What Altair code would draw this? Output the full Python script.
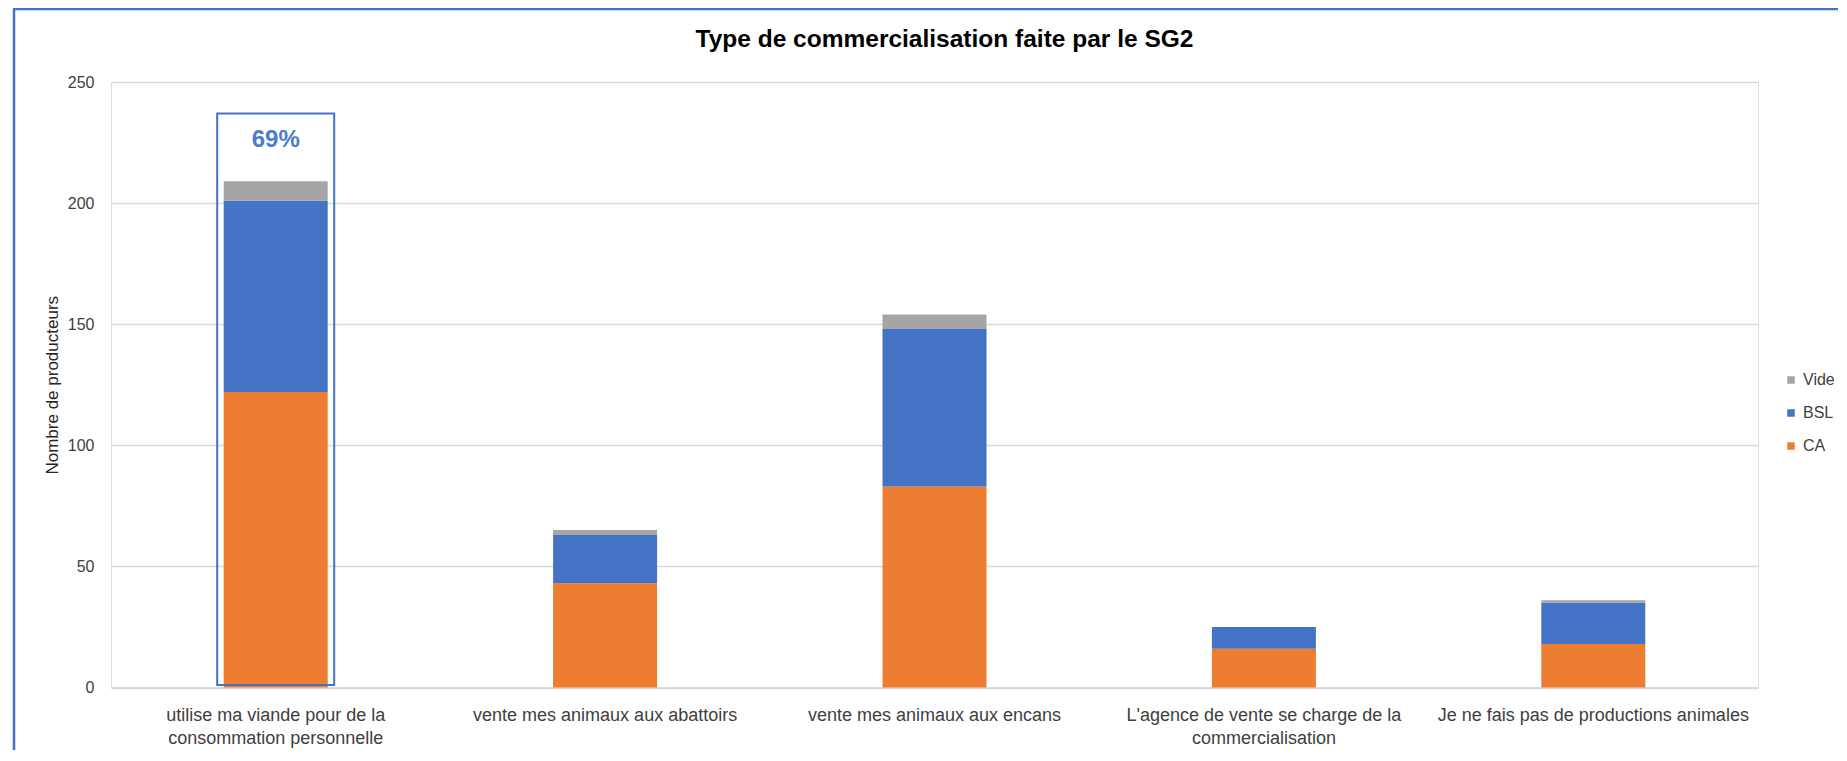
import altair as alt
import pandas as pd

# ---- data ----
categories = [
    "utilise ma viande pour de la\nconsommation personnelle",
    "vente mes animaux aux abattoirs",
    "vente mes animaux aux encans",
    "L'agence de vente se charge de la\ncommercialisation",
    "Je ne fais pas de productions animales",
]
series_names = ["CA", "BSL", "Vide"]          # bottom -> top in the stack
ca = [122, 43, 83, 16, 18]
bsl = [79, 20, 65, 9, 17]
vide = [8, 2, 6, 0, 1]
legend_order = ["Vide", "BSL", "CA"]
legend_colors = ["#A5A5A5", "#4472C4", "#ED7D31"]

y_ticks = [0, 50, 100, 150, 200, 250]

highlight_category = [categories[0]]
highlight_low = [1]
highlight_high = [237]
highlight_label = ["69%"]
highlight_label_y = [226]

chart_title = "Type de commercialisation faite par le SG2"
y_title = "Nombre de producteurs"

# ---- tables ----
rows = []
for s_idx, (name, vals) in enumerate(zip(series_names, [ca, bsl, vide])):
    for cat, v in zip(categories, vals):
        rows.append({"categorie": cat, "serie": name, "valeur": v, "ordre": s_idx})
df = pd.DataFrame(rows)

annot = pd.DataFrame({
    "categorie": highlight_category,
    "bas": highlight_low,
    "haut": highlight_high,
    "label": highlight_label,
    "label_y": highlight_label_y,
})

FONT = "Liberation Sans, Arial, sans-serif"
W, H = 1647, 605.5

x_enc = alt.X(
    "categorie:N",
    sort=categories,
    scale=alt.Scale(paddingInner=0, paddingOuter=0),
    axis=alt.Axis(
        title=None,
        labelAngle=0,
        labelFont=FONT,
        labelFontSize=18,
        labelColor="#404040",
        labelLineHeight=23,
        labelBaseline="top",
        labelPadding=19,
        labelLimit=0,
        labelExpr="split(datum.label, '\\n')",
        ticks=False,
        domainColor="#D9D9D9",
        domainWidth=1.5,
    ),
)

bars = alt.Chart(df).mark_bar(size=104).encode(
    x=x_enc,
    y=alt.Y(
        "valeur:Q",
        stack="zero",
        scale=alt.Scale(domain=[0, 250], nice=False),
        axis=alt.Axis(
            values=y_ticks,
            title=y_title,
            titleFont=FONT,
            titleFontSize=17,
            titleFontWeight="normal",
            titleColor="#262626",
            titleX=-59,
            titleY=H / 2,
            titleAngle=270,
            titleAlign="center",
            titleBaseline="middle",
            labelFont=FONT,
            labelFontSize=16,
            labelColor="#404040",
            labelPadding=17,
            ticks=False,
            domain=False,
            grid=True,
            gridColor="#D9D9D9",
            gridWidth=1.5,
        ),
    ),
    color=alt.Color(
        "serie:N",
        scale=alt.Scale(domain=legend_order, range=legend_colors),
        legend=alt.Legend(
            title=None,
            orient="none",
            legendX=1672,
            legendY=290,
            padding=0,
            symbolType="square",
            symbolSize=56,
            symbolStrokeWidth=0,
            labelFont=FONT,
            labelFontSize=16,
            labelColor="#404040",
            labelOffset=4,
            rowPadding=17,
        ),
    ),
    order=alt.Order("ordre:Q", sort="ascending"),
)

box = alt.Chart(annot).mark_bar(
    size=117, fill="transparent", stroke="#4472C4", strokeWidth=2
).encode(
    x=alt.X("categorie:N", sort=categories),
    y=alt.Y("bas:Q"),
    y2="haut:Q",
)

box_text = alt.Chart(annot).mark_text(
    font=FONT, fontSize=24, fontWeight="bold", color="#4A7CCF", baseline="middle"
).encode(
    x=alt.X("categorie:N", sort=categories),
    y=alt.Y("label_y:Q"),
    text="label:N",
)

frame_df = pd.DataFrame({"f": [0]})
frame_left = alt.Chart(frame_df).mark_rule(color="#4472C4", strokeWidth=2.5).encode(
    x=alt.value(-97), y=alt.value(-73), y2=alt.value(H + 70)
)
frame_top = alt.Chart(frame_df).mark_rule(color="#4472C4", strokeWidth=2.5).encode(
    x=alt.value(-98), x2=alt.value(W + 90), y=alt.value(-73)
)

chart = alt.layer(bars, box, box_text, frame_left, frame_top).properties(
    width=W,
    height=H,
    autosize=alt.AutoSizeParams(type="none"),
    padding={"left": 103, "top": 74, "right": 80, "bottom": 62},
    title=alt.Title(
        chart_title,
        font=FONT,
        fontSize=24.5,
        fontWeight="bold",
        color="#000000",
        anchor="middle",
        frame="group",
        dx=10,
        dy=86,
        baseline="alphabetic",
        offset=22,
    ),
).configure_view(stroke=None).configure(background="white")

chart.save("out.html", embed_options={"renderer": "svg", "actions": False})
